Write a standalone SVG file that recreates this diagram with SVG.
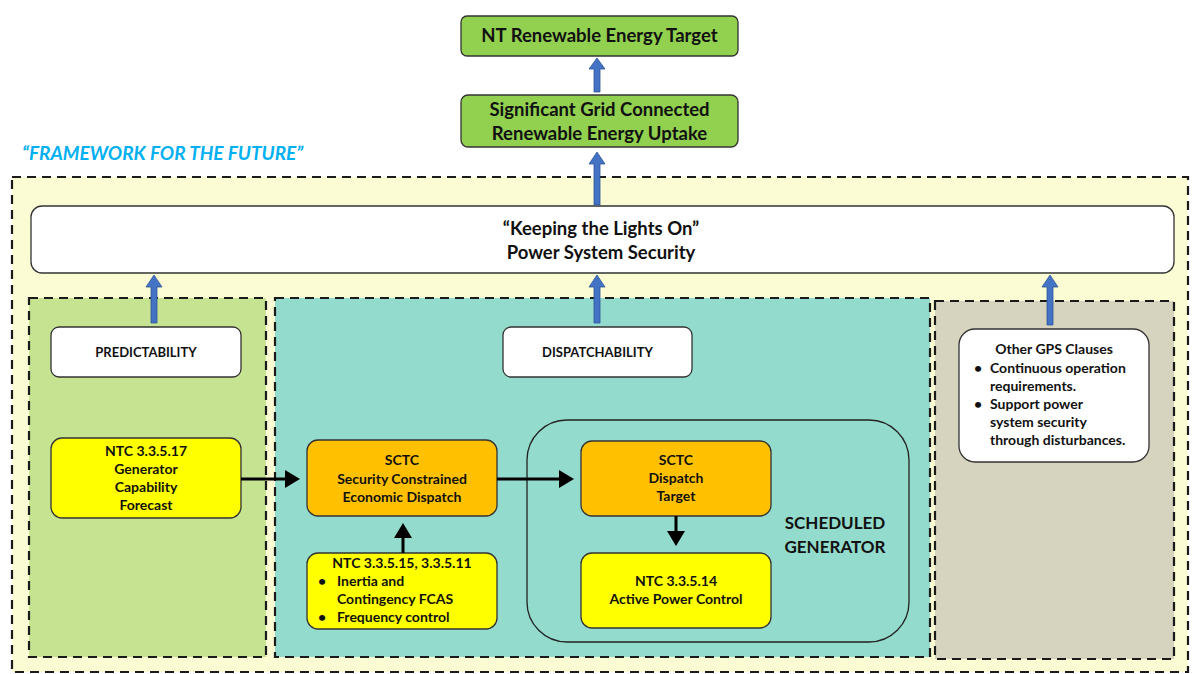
<svg xmlns="http://www.w3.org/2000/svg" width="1192" height="674" viewBox="0 0 1192 674">
<style>
text{font-family:Lato,"Open Sans","Liberation Sans",sans-serif;font-weight:bold;fill:#111}
.c{text-anchor:middle}
.dash{stroke:#1a1a1a;stroke-width:2.2;stroke-dasharray:9,6;fill:none}
.box{stroke:#333;stroke-width:1.3}
.t17{font-size:18.5px}
.t13{font-size:14px}
.t12{font-size:13px}
.blue{fill:#4472c4;stroke:#2f5597;stroke-width:0.8}
.blk{stroke:#000;stroke-width:3;fill:none;marker-end:url(#ah)}
</style>
<defs>
<marker id="ah" markerWidth="6" markerHeight="6" refX="4" refY="3" orient="auto" markerUnits="strokeWidth">
<path d="M0,0 L5,3 L0,6 Z" fill="#000"/>
</marker>
</defs>
<rect width="1192" height="674" fill="#fff"/>
<g id="framework">
<rect x="12" y="177" width="1176" height="495" fill="#fbfcd4"/>
<rect x="12" y="177" width="1176" height="495" class="dash"/>
<text x="22" y="160" font-size="19" font-style="italic" style="fill:#00b0f0">“FRAMEWORK FOR THE FUTURE”</text>
</g>
<g id="panel-predictability">
<rect x="29" y="298" width="237" height="359" fill="#c5e390"/>
<rect x="29" y="298" width="237" height="359" class="dash"/>
</g>
<g id="panel-dispatchability">
<rect x="275" y="298" width="655" height="359" fill="#93dbcc"/>
<rect x="275" y="298" width="655" height="359" class="dash"/>
</g>
<g id="panel-other">
<rect x="935" y="301" width="239" height="358" fill="#d6d3be"/>
<rect x="935" y="301" width="239" height="358" class="dash"/>
</g>
<g id="nt-target">
<rect x="461" y="16" width="277" height="40" rx="6" fill="#92d050" class="box"/>
<text x="599.5" y="42" class="c t17">NT Renewable Energy Target</text>
</g>
<g id="significant">
<rect x="461" y="95" width="277" height="52" rx="7" fill="#92d050" class="box"/>
<text x="599.5" y="116" class="c t17">Significant Grid Connected</text>
<text x="599.5" y="140" class="c t17">Renewable Energy Uptake</text>
</g>
<g id="security">
<rect x="31" y="206" width="1143" height="67" rx="11" fill="#fff" class="box"/>
<text x="601" y="235" class="c t17">“Keeping the Lights On”</text>
<text x="601" y="259" class="c t17">Power System Security</text>
</g>
<g id="predictability">
<rect x="51" y="327" width="190" height="50" rx="8" fill="#fff" class="box"/>
<text x="146" y="357" class="c t12">PREDICTABILITY</text>
</g>
<g id="dispatchability">
<rect x="503" y="327" width="189" height="50" rx="8" fill="#fff" class="box"/>
<text x="597.5" y="357" class="c t12">DISPATCHABILITY</text>
</g>
<g id="other-gps">
<rect x="959" y="329" width="190" height="133" rx="16" fill="#fff" class="box"/>
<text x="1054" y="354" class="c t13">Other GPS Clauses</text>
<text x="974" y="373" class="t13">•</text>
<text x="990" y="373" class="t13">Continuous operation</text>
<text x="990" y="391" class="t13">requirements.</text>
<text x="974" y="409" class="t13">•</text>
<text x="990" y="409" class="t13">Support power</text>
<text x="990" y="427" class="t13">system security</text>
<text x="990" y="445" class="t13">through disturbances.</text>
</g>
<g id="ntc-3-3-5-17">
<rect x="51" y="438" width="190" height="80" rx="11" fill="#ffff00" class="box"/>
<text x="146" y="456" class="c t13">NTC 3.3.5.17</text>
<text x="146" y="474" class="c t13">Generator</text>
<text x="146" y="492" class="c t13">Capability</text>
<text x="146" y="510" class="c t13">Forecast</text>
</g>
<g id="sced">
<rect x="307" y="440" width="190" height="76" rx="11" fill="#ffc000" class="box"/>
<text x="402" y="465" class="c t13">SCTC</text>
<text x="402" y="484" class="c t13">Security Constrained</text>
<text x="402" y="502" class="c t13">Economic Dispatch</text>
</g>
<g id="ntc-3-3-5-15">
<rect x="307" y="553" width="190" height="76" rx="11" fill="#ffff00" class="box"/>
<text x="402" y="568" class="c t13">NTC 3.3.5.15, 3.3.5.11</text>
<text x="318" y="586" class="t13">•</text>
<text x="337" y="586" class="t13">Inertia and</text>
<text x="337" y="604" class="t13">Contingency FCAS</text>
<text x="318" y="622" class="t13">•</text>
<text x="337" y="622" class="t13">Frequency control</text>
</g>
<g id="scheduled-generator">
<rect x="527" y="420" width="382" height="222" rx="40" fill="none" stroke="#222" stroke-width="1.3"/>
<text x="835" y="529" class="c" font-size="17">SCHEDULED</text>
<text x="835" y="553" class="c" font-size="17">GENERATOR</text>
</g>
<g id="dispatch-target">
<rect x="581" y="441" width="190" height="75" rx="11" fill="#ffc000" class="box"/>
<text x="676" y="465" class="c t13">SCTC</text>
<text x="676" y="483" class="c t13">Dispatch</text>
<text x="676" y="501" class="c t13">Target</text>
</g>
<g id="ntc-3-3-5-14">
<rect x="581" y="553" width="190" height="75" rx="11" fill="#ffff00" class="box"/>
<text x="676" y="586" class="c t13">NTC 3.3.5.14</text>
<text x="676" y="604" class="c t13">Active Power Control</text>
</g>
<g id="connectors">
<path class="blue" d="M594,92 L594,69 L589,69 L597,58 L605,69 L600,69 L600,92 Z"/>
<path class="blue" d="M594,205 L594,164 L589,164 L597,152 L605,164 L600,164 L600,205 Z"/>
<path class="blue" d="M151,323 L151,287 L146,287 L154,275 L162,287 L157,287 L157,323 Z"/>
<path class="blue" d="M594,323 L594,287 L589,287 L597,275 L605,287 L600,287 L600,323 Z"/>
<path class="blue" d="M1047,325 L1047,287 L1042,287 L1050,275 L1058,287 L1053,287 L1053,325 Z"/>
<line x1="241" y1="479" x2="297" y2="479" class="blk"/>
<line x1="497" y1="479" x2="571" y2="479" class="blk"/>
<line x1="403" y1="553" x2="403" y2="526" class="blk"/>
<line x1="676" y1="516" x2="676" y2="543" class="blk"/>
</g>
</svg>
